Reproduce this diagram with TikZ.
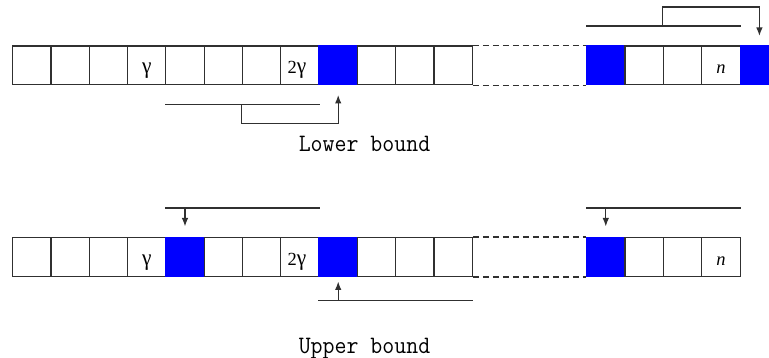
\documentclass[tikz,border=0pt]{standalone}
\usepackage{fontspec}
\usetikzlibrary{arrows.meta}
\newfontfamily\tnr{Liberation Serif}
\definecolor{ink}{HTML}{303030}
\newcommand{\gam}{\scalebox{1.15}[1.25]{γ}}
\begin{document}
\begin{tikzpicture}[x=1pt,y=-1pt,
  cell/.style={draw=ink,line width=1.25pt,fill=white,minimum width=38.35pt,minimum height=38.7pt,inner sep=0pt,anchor=north west},
  bluecell/.style={cell,fill=blue,draw=blue},
  lbl/.style={font=\tnr\fontsize{18.5}{18.5}\selectfont,inner sep=0pt,anchor=base},
  conn/.style={draw=ink,line width=1.25pt},
  arr/.style={conn,-{Latex[length=8.5pt,width=6.5pt]}},
  dashline/.style={conn,dash pattern=on 6pt off 4pt},
  caption/.style={font=\ttfamily\fontsize{23.2}{23.2}\selectfont,inner sep=0pt,anchor=base}]
\clip (0,0) rectangle (769,358);
\fill[white] (0,0) rectangle (769,358);
% top row
\foreach \i/\s in {1/cell,2/cell,3/cell,4/cell,5/cell,6/cell,7/cell,8/cell,9/bluecell,10/cell,11/cell,12/cell}
  \node[\s] (a\i) at ({12+38.3*(\i-1)},45.5) {};
\foreach \i/\s in {13/bluecell,14/cell,15/cell,16/cell,17/bluecell}
  \node[\s] (a\i) at ({586+38.4*(\i-13)},45.5) {};
\draw[dashline] (a12.north east) -- (a13.north west);
\draw[dashline] (a12.south east) -- (a13.south west);
\node[lbl] (ag1) at ([yshift=-8.3pt]a4.center) {\gam};
\node[lbl] (ag2) at ([xshift=-3pt,yshift=-8.3pt]a8.center) {2\gam};
\node[lbl] (an) at ([yshift=-8.3pt]a16.center) {\itshape n};
% lower bound bracket
\coordinate (lbL) at ([yshift=-19pt]a5.south west);
\coordinate (lbR) at ([yshift=-19pt]a8.south east);
\draw[conn] (lbL) -- (lbR);
\draw[arr] (a7.south west |- lbL) -- ++(0pt,-19pt) -| ([yshift=-9.5pt]a9.south);
% top right bracket
\coordinate (trL) at ([yshift=19.5pt]a13.north west);
\coordinate (trR) at ([yshift=19.5pt]a16.north east);
\draw[conn] (trL) -- (trR);
\draw[arr] (a15.north west |- trL) -- ++(0pt,19pt) -| ([yshift=9.5pt]a17.north);
\node[caption] (lower) at (364.5,152) {\scalebox{1}[1.08]{Lower bound}};
% bottom row
\foreach \i/\s in {1/cell,2/cell,3/cell,4/cell,5/bluecell,6/cell,7/cell,8/cell,9/bluecell,10/cell,11/cell,12/cell}
  \node[\s] (b\i) at ({12+38.3*(\i-1)},237) {};
\foreach \i/\s in {13/bluecell,14/cell,15/cell,16/cell}
  \node[\s] (b\i) at ({586+38.4*(\i-13)},237) {};
\draw[dashline] (b12.north east) -- (b13.north west);
\draw[dashline] (b12.south east) -- (b13.south west);
\node[lbl] (bg1) at ([yshift=-8.3pt]b4.center) {\gam};
\node[lbl] (bg2) at ([xshift=-3pt,yshift=-8.3pt]b8.center) {2\gam};
\node[lbl] (bn) at ([yshift=-8.3pt]b16.center) {\itshape n};
% upper bound bars
\coordinate (u1L) at ([yshift=29pt]b5.north west);
\coordinate (u1R) at ([yshift=29pt]b8.north east);
\draw[conn] (u1L) -- (u1R);
\draw[arr] (b5.north |- u1L) -- ([yshift=10.5pt]b5.north);
\coordinate (u2L) at ([yshift=-23.3pt]b9.south west);
\coordinate (u2R) at ([yshift=-23.3pt]b12.south east);
\draw[conn] (u2L) -- (u2R);
\draw[arr] (b9.south |- u2L) -- ([yshift=-4.5pt]b9.south);
\coordinate (u3L) at ([yshift=29pt]b13.north west);
\coordinate (u3R) at ([yshift=29pt]b16.north east);
\draw[conn] (u3L) -- (u3R);
\draw[arr] (b13.north |- u3L) -- ([yshift=10.5pt]b13.north);
\node[caption] (upper) at (364.5,353) {\scalebox{1}[1.08]{Upper bound}};
\end{tikzpicture}
\end{document}
